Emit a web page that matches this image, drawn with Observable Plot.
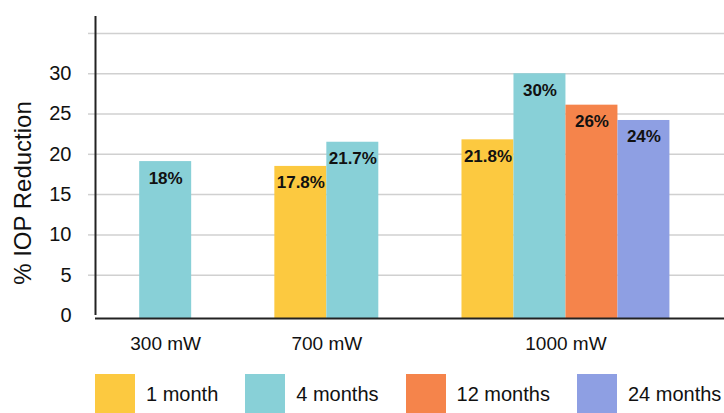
<!DOCTYPE html>
<html><head><meta charset="utf-8">
<script src="https://cdn.jsdelivr.net/npm/d3@7"></script>
<script src="https://cdn.jsdelivr.net/npm/@observablehq/plot@0.6"></script>
<style>
body{margin:0;background:#fff;font-family:"Liberation Sans",Arial,sans-serif;color:#111;}
#legend{display:flex;margin-left:95px;margin-top:14px;gap:27px;white-space:nowrap;}
.item{display:flex;align-items:flex-start;flex:none;}
.sw{width:40px;height:40px;flex:none;}
.lab{font-size:20px;margin-left:11px;line-height:40px;white-space:nowrap;}
</style></head><body><div id="chart"></div><div id="legend"></div>
<script>
const groups = ["300 mW", "700 mW", "1000 mW"];
const series = ["1 month", "4 months", "12 months", "24 months"];
const colors = ["#FCC940", "#88D0D7", "#F5844B", "#8E9FE3"];
const barGroup = ["300 mW", "700 mW", "700 mW", "1000 mW", "1000 mW", "1000 mW", "1000 mW"];
const barSeries = ["4 months", "1 month", "4 months", "1 month", "4 months", "12 months", "24 months"];
const barValue = [19.1, 18.5, 21.5, 21.8, 30, 26.1, 24.2];
const barLabel = ["18%", "17.8%", "21.7%", "21.8%", "30%", "26%", "24%"];
const yTicks = [0, 5, 10, 15, 20, 25, 30];
const gridTicks = [5, 10, 15, 20, 25, 30, 35];
const yMax = 37.6;

// layout in bar-width units
const gap = 1.6, leftPad = 0.85, rightPad = 1.05;
let pos = leftPad;
const bars = [], centers = [];
groups.forEach(g => {
  const idx = barGroup.map((d, i) => d === g ? i : -1).filter(i => i >= 0);
  const start = pos;
  idx.forEach((i, k) => bars.push({group: g, series: barSeries[i], value: barValue[i], label: barLabel[i], x1: start + k, x2: start + k + 1}));
  centers.push({group: g, x: start + idx.length / 2});
  pos += idx.length + gap;
});
const total = pos - gap + rightPad;

const chart = Plot.plot({
  width: 724, height: 360,
  marginLeft: 95, marginRight: 0, marginTop: 12, marginBottom: 45,
  x: {domain: [0, total], axis: null},
  y: {domain: [0, yMax], axis: null},
  color: {domain: series, range: colors},
  style: {fontFamily: '"Liberation Sans", Arial, sans-serif', color: "#111", background: "#fff"},
  marks: [
    Plot.gridY(gridTicks, {stroke: "#d0d0d0", strokeOpacity: 1, strokeWidth: 1.5}),
    Plot.axisY(gridTicks, {tickSize: 7, stroke: "#d0d0d0", strokeWidth: 1.5, tickFormat: () => "", label: null}),
    Plot.axisY(yTicks, {tickSize: 0, tickPadding: 24, fontSize: 20, label: null}),
    Plot.rectY(bars, {x1: "x1", x2: "x2", y: "value", fill: "series", insetBottom: -3}),
    Plot.text(bars, {x: d => (d.x1 + d.x2) / 2, y: "value", text: "label", dy: 16.5, fontWeight: "bold", fontSize: 17, fill: "#111"}),
    Plot.ruleY([0], {stroke: "#222", strokeWidth: 2, dy: 3}),
    Plot.ruleX([0], {y1: 0, y2: yMax, stroke: "#222", strokeWidth: 2, insetBottom: -4}),
    Plot.text(centers, {x: "x", y: 0, text: "group", dy: 28, fontSize: 19, fill: "#111"}),
    Plot.text(["% IOP Reduction"], {y: [15.2], frameAnchor: "left", textAnchor: "middle", dx: -72, rotate: -90, fontSize: 24, fill: "#111"})
  ]
});
document.getElementById("chart").appendChild(chart);

const legend = document.getElementById("legend");
series.forEach((s, i) => {
  const it = document.createElement("div"); it.className = "item";
  const sw = document.createElement("div"); sw.className = "sw"; sw.style.background = colors[i];
  const lab = document.createElement("div"); lab.className = "lab"; lab.textContent = s;
  it.appendChild(sw); it.appendChild(lab); legend.appendChild(it);
});
</script></body></html>
